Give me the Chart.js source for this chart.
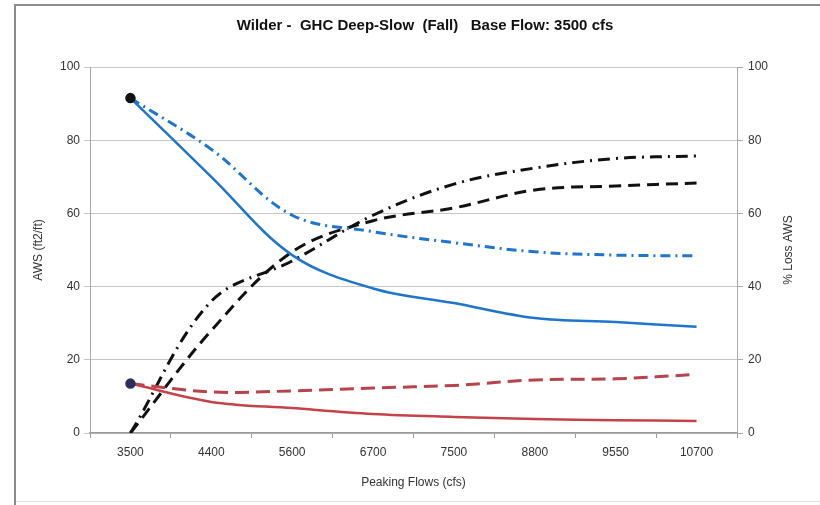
<!DOCTYPE html>
<html>
<head>
<meta charset="utf-8">
<script src="https://cdn.jsdelivr.net/npm/chart.js@4/dist/chart.umd.min.js"></script>
<style>
  html, body { margin: 0; padding: 0; background: #fff; }
  #wrap { width: 820px; height: 505px; position: relative; }
</style>
</head>
<body>
<div id="wrap"><canvas id="c" width="820" height="505"></canvas></div>
<script>
const categories = ['3500', '4400', '5600', '6700', '7500', '8800', '9550', '10700'];
const awsSolidBlue = [91.5, 70, 48.6, 39.5, 35.5, 31.4, 30.3, 29];
const awsDashDotBlue = [91.5, 77.5, 59.5, 55, 52, 49.5, 48.6, 48.4];
const awsSolidRed = [13.5, 8.5, 6.8, 5.2, 4.4, 3.8, 3.5, 3.3];
const awsDashedRed = [13.5, 11.2, 11.5, 12.3, 13, 14.5, 14.8, 16];
const lossDashDot = [0, 36, 47, 59.5, 68, 72.4, 75, 75.7];
const lossDashed = [0, 28, 49.5, 58, 61.5, 66.4, 67.5, 68.3];
const leftTicks = [0, 20, 40, 60, 80, 100];
const rightTicks = [0, 20, 40, 60, 80, 100];
const titleText = 'Wilder -  GHC Deep-Slow  (Fall)   Base Flow: 3500 cfs';

const FONT = "'Liberation Sans', Arial, sans-serif";
const firstOnly = (r) => categories.map((_, i) => i === 0 ? r : 0);

const frame = {
  id: 'frame',
  beforeDraw(chart) {
    const ctx = chart.ctx;
    ctx.save();
    ctx.fillStyle = '#fff';
    ctx.fillRect(0, 0, chart.width, chart.height);
    ctx.strokeStyle = '#8c8c8c';
    ctx.lineWidth = 2;
    ctx.beginPath();
    ctx.moveTo(15, 505); ctx.lineTo(15, 5); ctx.lineTo(820, 5);
    ctx.stroke();
    ctx.strokeStyle = '#e2e2e2';
    ctx.lineWidth = 1;
    ctx.beginPath();
    ctx.moveTo(16, 501.5); ctx.lineTo(820, 501.5);
    ctx.stroke();
    ctx.restore();
  },
  afterDraw(chart) {
    const ctx = chart.ctx;
    const a = chart.chartArea;
    ctx.save();
    ctx.font = 'bold 15px ' + FONT;
    ctx.fillStyle = '#111';
    ctx.textAlign = 'center';
    ctx.textBaseline = 'middle';
    ctx.fillText(titleText, 425, 26);
    ctx.font = '12px ' + FONT;
    ctx.fillStyle = '#333';
    ctx.translate(789, (a.top + a.bottom) / 2);
    ctx.rotate(-Math.PI / 2);
    ctx.fillText('% Loss AWS', 0, 0);
    ctx.restore();
  }
};

new Chart(document.getElementById('c'), {
  type: 'line',
  data: {
    labels: categories,
    datasets: [
      { data: awsSolidBlue, yAxisID: 'y', borderColor: '#1f74cc', borderWidth: 2.5,
        pointRadius: firstOnly(4), pointBackgroundColor: '#111', pointBorderColor: '#111', order: 1 },
      { data: awsDashDotBlue, yAxisID: 'y', borderColor: '#1f74cc', borderWidth: 3, borderDash: [10, 5, 2, 5],
        pointRadius: 0, order: 2 },
      { data: awsSolidRed, yAxisID: 'y', borderColor: '#c4424a', borderWidth: 2.5,
        pointRadius: firstOnly(4), pointBackgroundColor: '#2c2f5a', pointBorderColor: '#2c2f5a', order: 1 },
      { data: awsDashedRed, yAxisID: 'y', borderColor: '#b8434a', borderWidth: 3, borderDash: [14, 7],
        pointRadius: 0, order: 2 },
      { data: lossDashDot, yAxisID: 'y1', borderColor: '#111', borderWidth: 3, borderDash: [12, 6, 2, 6],
        pointRadius: 0, order: 3 },
      { data: lossDashed, yAxisID: 'y1', borderColor: '#111', borderWidth: 3, borderDash: [12, 7],
        pointRadius: 0, order: 3 }
    ]
  },
  options: {
    responsive: false,
    animation: false,
    layout: { padding: { top: 67, left: 0, right: 0, bottom: 0 } },
    elements: { line: { tension: 0.35, fill: false } },
    plugins: {
      legend: { display: false },
      tooltip: { enabled: false },
      title: { display: false }
    },
    scales: {
      x: {
        type: 'category',
        offset: true,
        afterFit: s => { s.height = 72; },
        grid: { display: true, offset: true, drawOnChartArea: false, drawTicks: true, tickLength: 5, color: '#9a9a9a' },
        border: { display: true, color: '#9a9a9a', width: 1.5 },
        ticks: { color: '#333', font: { family: FONT, size: 12 }, padding: 7, maxRotation: 0, autoSkip: false },
        title: { display: true, text: 'Peaking Flows (cfs)', color: '#333', font: { family: FONT, size: 12 }, padding: { top: 0, bottom: 15 } }
      },
      y: {
        position: 'left',
        min: 0, max: 100,
        afterFit: s => { s.width = 90; },
        afterBuildTicks: s => { s.ticks = leftTicks.map(v => ({ value: v })); },
        grid: { color: '#c6c6c6', lineWidth: 1, tickLength: 6 },
        border: { display: true, color: '#a8a8a8' },
        ticks: { color: '#333', font: { family: FONT, size: 12 }, padding: 4 },
        title: { display: true, text: 'AWS (ft2/ft)', color: '#333', font: { family: FONT, size: 12 }, padding: { top: 31 } }
      },
      y1: {
        position: 'right',
        min: 0, max: 100,
        afterFit: s => { s.width = 83; },
        afterBuildTicks: s => { s.ticks = rightTicks.map(v => ({ value: v })); },
        grid: { drawOnChartArea: false, drawTicks: true, tickLength: 6, color: '#a8a8a8' },
        border: { display: true, color: '#a8a8a8' },
        ticks: { color: '#333', font: { family: FONT, size: 12 }, padding: 5 },
        title: { display: false }
      }
    }
  },
  plugins: [frame]
});
</script>
</body>
</html>
